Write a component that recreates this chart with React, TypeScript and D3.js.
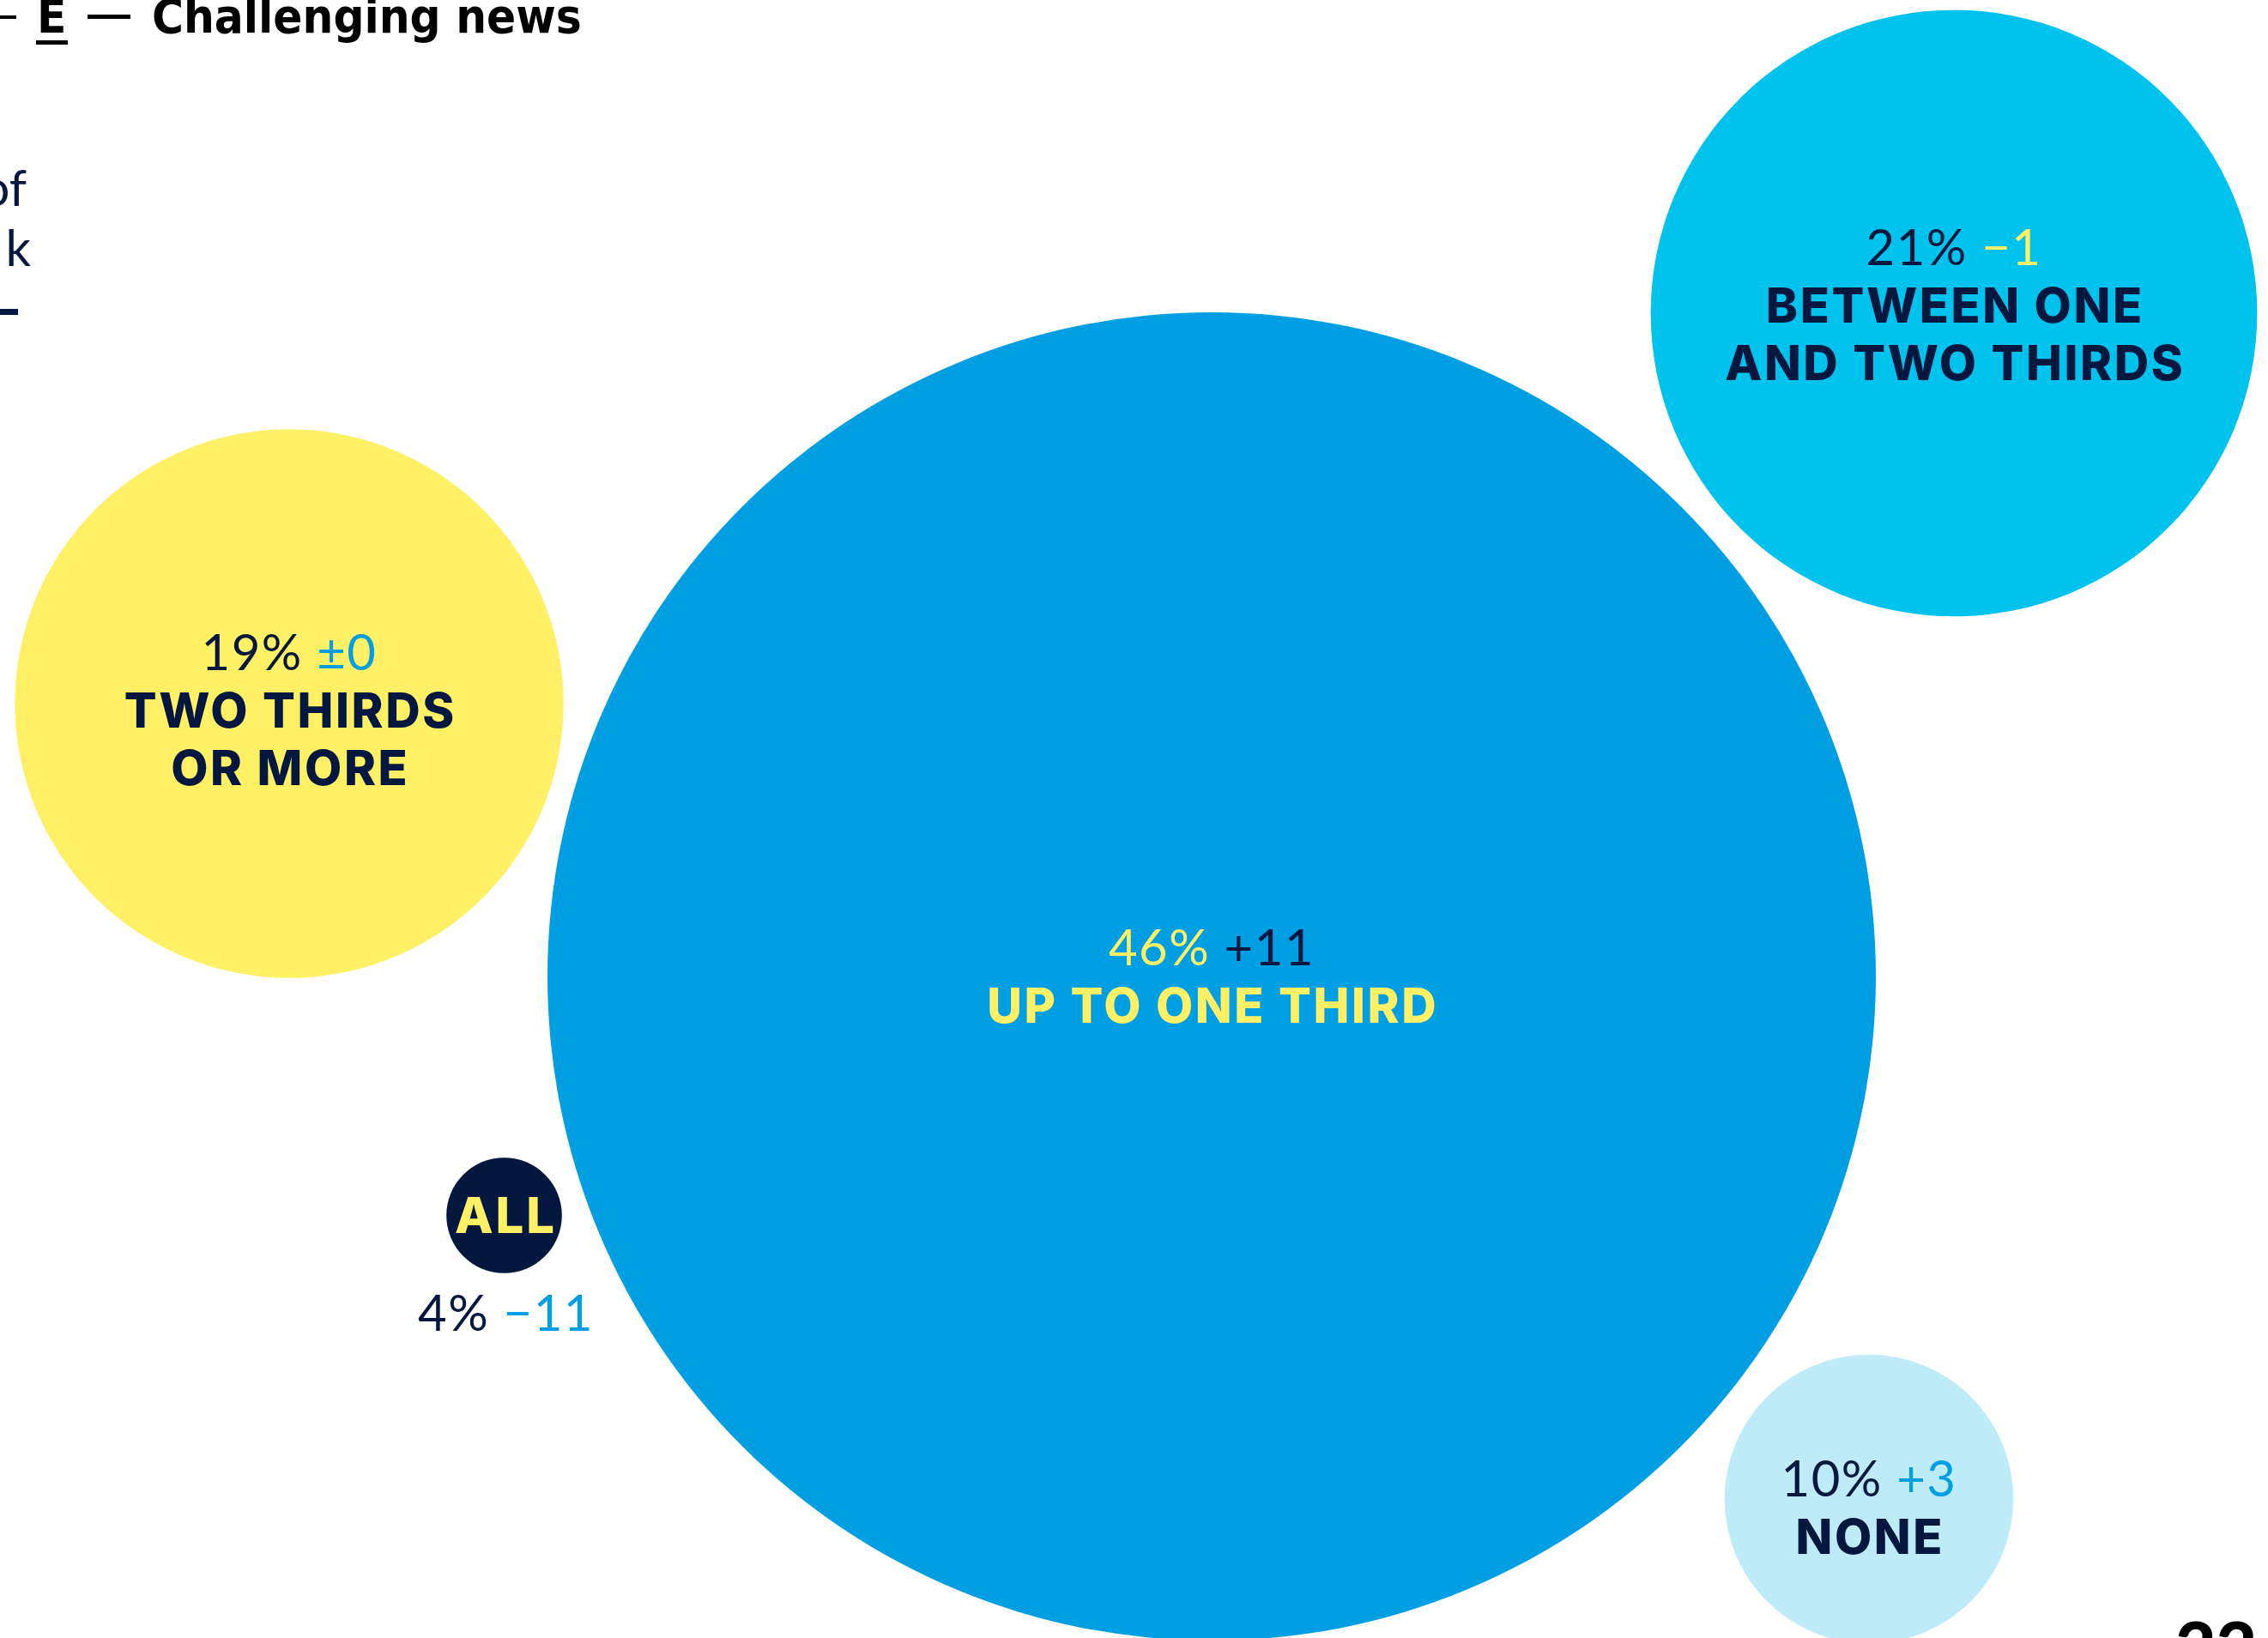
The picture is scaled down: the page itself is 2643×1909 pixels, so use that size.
import React from "react";
import * as d3 from "d3";

// ---- data ----
const categories = ["UP TO ONE THIRD", "BETWEEN ONE AND TWO THIRDS", "TWO THIRDS OR MORE", "NONE", "ALL"];
const shares = [46, 21, 19, 10, 4];
const changes = ["+11", "\u22121", "\u00b10", "+3", "\u221211"];
const labelLines = [["UP TO ONE THIRD"], ["BETWEEN ONE", "AND TWO THIRDS"], ["TWO THIRDS", "OR MORE"], ["NONE"], ["ALL"]];

// ---- layout / style (separate from data) ----
const W = 2643;
const H = 1909;
const NAVY = "#04173f";
const BLUE = "#009fe3";
const CYAN = "#00c3ed";
const YELLOW = "#fff066";
const PALE = "#bdebf8";

const layout: Record<string, { cx: number; cy: number; fill: string; num: string; chg: string; lab: string; dy: number }> = {
  "UP TO ONE THIRD": { cx: 1412, cy: 1138, fill: BLUE, num: YELLOW, chg: NAVY, lab: YELLOW, dy: 0 },
  "BETWEEN ONE AND TWO THIRDS": { cx: 2277, cy: 365, fill: CYAN, num: NAVY, chg: YELLOW, lab: NAVY, dy: -9 },
  "TWO THIRDS OR MORE": { cx: 337, cy: 820, fill: YELLOW, num: NAVY, chg: BLUE, lab: NAVY, dy: 8 },
  "NONE": { cx: 2178, cy: 1747, fill: PALE, num: NAVY, chg: BLUE, lab: NAVY, dy: 10 },
  "ALL": { cx: 587.5, cy: 1416.5, fill: NAVY, num: NAVY, chg: BLUE, lab: YELLOW, dy: 0 },
};

const FONT = "Lato, 'Open Sans', sans-serif";
const LAB_FONT = "Inter, Lato, sans-serif";
const NUM_SIZE = 58;
const LAB_SIZE = 56;
const LAB_SPACING = 2.6;
const LINE = 67;

export default function App() {
  const r = d3.scaleLinear().domain([0, 46]).range([0, 774]);

  const bubbles = categories.map((c, i) => ({
    cat: c,
    share: shares[i],
    change: changes[i],
    lines: labelLines[i],
    ...layout[c],
  }));

  return (
    <svg
      width={W}
      height={H}
      viewBox={`0 0 ${W} ${H}`}
      style={{ position: "absolute", left: 0, top: 0, background: "#fff" }}
    >
      <rect width={W} height={H} fill="#fff" />

      {/* cut-off header */}
      <g fontFamily="'DejaVu Sans Condensed', 'DejaVu Sans', sans-serif" fontStretch="condensed" fontWeight={700} fontSize={56} fill="#000">
        <rect x={0} y={18} width={19} height={4} />
        <text x={43} y={38}>E</text>
        <rect x={42} y={47} width={37} height={5} />
        <rect x={102} y={17} width={50} height={5} />
        <text x={177} y={38}>Challenging news</text>
      </g>

      {/* cut-off body text at left */}
      <g fontFamily={FONT} fontSize={58} fill={NAVY} textAnchor="end">
        <text x={31} y={240}>of</text>
        <text x={36} y={310}>k</text>
        <rect x={0} y={360} width={21} height={7} />
      </g>

      {/* page number, cut by the bottom edge */}
      <text x={2630} y={1950} textAnchor="end" fontFamily={FONT} fontWeight={900} fontSize={82} fill="#000">22</text>

      {bubbles.map((b) => (
        <circle key={b.cat} cx={b.cx} cy={b.cy} r={r(b.share)} fill={b.fill} />
      ))}

      {bubbles.filter((b) => b.cat !== "ALL").map((b) => {
        const n = 1 + b.lines.length;
        const first = b.cy - ((n - 1) * LINE) / 2 + 20 + b.dy;
        return (
          <g key={b.cat + "-t"} textAnchor="middle">
            <text x={b.cx} y={first} fontFamily={FONT} fontSize={NUM_SIZE} fontWeight={400} letterSpacing={1.5}>
              <tspan fill={b.num}>{b.share}%</tspan>
              <tspan fill={b.chg}> {b.change}</tspan>
            </text>
            {b.lines.map((l, j) => (
              <text key={l} x={b.cx + LAB_SPACING / 2} y={first + (j + 1) * LINE} fontFamily={LAB_FONT} fontSize={LAB_SIZE} fontWeight={800} fill={b.lab} letterSpacing={LAB_SPACING}>
                {l}
              </text>
            ))}
          </g>
        );
      })}

      {bubbles.filter((b) => b.cat === "ALL").map((b) => (
        <g key="all-t" textAnchor="middle">
          <text x={b.cx + 2} y={b.cy + 20} fontFamily={LAB_FONT} fontSize={58} fontWeight={800} fill={b.lab} letterSpacing={3}>
            {b.lines[0]}
          </text>
          <text x={b.cx + 2} y={1551} fontFamily={FONT} fontSize={NUM_SIZE} fontWeight={400} letterSpacing={1.5}>
            <tspan fill={b.num}>{b.share}%</tspan>
            <tspan fill={b.chg}> {b.change}</tspan>
          </text>
        </g>
      ))}
    </svg>
  );
}
